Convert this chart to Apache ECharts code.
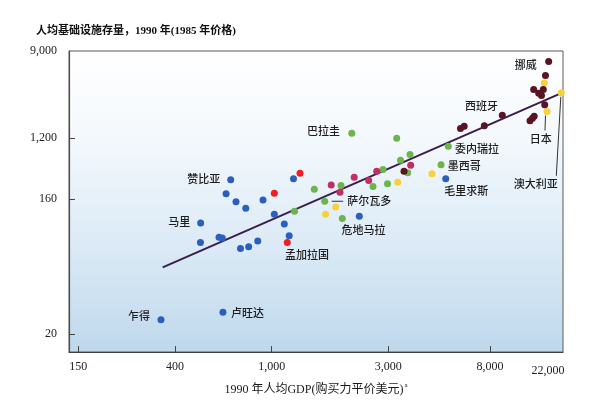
<!DOCTYPE html>
<html>
<head>
<meta charset="utf-8">
<script src="https://cdn.jsdelivr.net/npm/echarts@6/dist/echarts.min.js"></script>
<style>
html,body{margin:0;padding:0;background:#fff;}
#chart{width:613px;height:405px;}
</style>
</head>
<body>
<div id="chart"></div>
<script>
// ---- Axis ticks as printed on the original chart ----
const X_TICKS = [150, 400, 1000, 3000, 8000, 22000];
const X_TICK_LABELS = ['150', '400', '1,000', '3,000', '8,000', '22,000'];
const Y_TICKS = [20, 160, 1200, 9000];
const Y_TICK_LABELS = ['20', '160', '1,200', '9,000'];

// ---- Data: GDP per capita (PPP $) and infrastructure stock per capita ----
const africaGDP   = [678, 649, 713, 782, 921, 1228, 1025, 1126, 1179, 510, 509, 607, 626, 744, 804, 876, 347, 630, 2283, 5220];
const africaStock = [304, 191, 154, 139, 158, 315, 127, 109, 91, 111, 82, 89, 88, 75, 77, 84, 25, 28, 123, 314];

const southAsiaGDP   = [1025, 1306, 1158];
const southAsiaStock = [194, 378, 82];

const latinGDP   = [1494, 1240, 1648, 1921, 2597, 2853, 2978, 3375, 3698, 3617, 4989, 5351, 2126, 3253, 1945];
const latinStock = [223, 133, 155, 252, 243, 427, 266, 580, 700, 383, 498, 921, 1347, 1200, 119];

const midEastGDP   = [1752, 1903, 2176, 2494, 2690, 3723];
const midEastStock = [256, 201, 330, 297, 402, 492];

const eastAsiaGDP   = [1661, 1828, 3285, 4573, 17625, 16980, 21490];
const eastAsiaStock = [127, 142, 281, 370, 2224, 4297, 3426];

const oecdGDP   = [3491, 6019, 6237, 7573, 9487, 13924, 14414, 14757, 14655, 15714, 16331, 16744, 17072, 17262, 18041];
const oecdStock = [404, 1501, 1580, 1602, 2037, 1794, 1905, 1991, 3698, 3395, 3219, 3698, 2603, 5109, 7062];

// regression line end points [GDP, stock]
const fitLine = [[353, 56], [21490, 3400]];

// country names shown on the chart: [group, index in group, name]
const countryNames = [
  ['africa', 0, '赞比亚'], ['africa', 9, '马里'], ['africa', 16, '乍得'], ['africa', 17, '卢旺达'],
  ['africa', 18, '危地马拉'], ['africa', 19, '毛里求斯'],
  ['southAsia', 2, '孟加拉国'],
  ['latin', 2, '萨尔瓦多'], ['latin', 10, '墨西哥'], ['latin', 11, '委内瑞拉'], ['latin', 12, '巴拉圭'],
  ['eastAsia', 4, '日本'], ['eastAsia', 6, '澳大利亚'],
  ['oecd', 3, '西班牙'], ['oecd', 14, '挪威']
];

// ---- Scale: the printed axes are logarithmic between the labelled ticks,
// with the tick spacing of the original figure (axis units along each axis) ----
const X_TICK_POS = [9.3, 106, 202.7, 319.3, 421, 494];
const X_MAX = 494;
const Y_TICK_POS = [17.8, 152.8, 213.8, 301];
const Y_MAX = 301;

function piecewiseLog(v, ticks, pos) {
  const L = Math.log10(v);
  const lt = ticks.map(t => Math.log10(t));
  let i = 0;
  while (i < lt.length - 2 && L > lt[i + 1]) i++;
  return pos[i] + (L - lt[i]) * (pos[i + 1] - pos[i]) / (lt[i + 1] - lt[i]);
}
const tx = v => piecewiseLog(v, X_TICKS, X_TICK_POS);
const ty = v => piecewiseLog(v, Y_TICKS, Y_TICK_POS);

// ---- Styles ----
const COLORS = {
  africa: '#2b5fbd', southAsia: '#f21d1d', latin: '#6cb44c',
  midEast: '#c22d64', eastAsia: '#f8d03c', oecd: '#5a1322'
};
const LABEL_STYLE = {
  '赞比亚':  {position: 'left', distance: 7, offset: [0, -1]},
  '马里':    {position: 'left', distance: 7, offset: [0, -1]},
  '乍得':    {position: 'left', distance: 7.5, offset: [0, -4]},
  '卢旺达':  {position: 'right', distance: 4.5, offset: [0, 0.5]},
  '危地马拉': {position: 'bottom', distance: 4.7, offset: [4.2, 0]},
  '毛里求斯': {position: 'bottom', distance: 3.4, offset: [20.5, 0]},
  '孟加拉国': {position: 'bottom', distance: 3.7, offset: [19.7, 0]},
  '萨尔瓦多': {position: 'right', distance: 19, offset: [0, 0]},
  '墨西哥':  {position: 'right', distance: 3.2, offset: [0, 1.4]},
  '委内瑞拉': {position: 'right', distance: 3.2, offset: [0, 2.3]},
  '巴拉圭':  {position: 'left', distance: 8.2, offset: [0, -2.5]},
  '日本':    {position: 'bottom', distance: 18.3, offset: [-6.2, 0]},
  '澳大利亚': {position: 'bottom', distance: 81.7, offset: [-25.5, 0]},
  '西班牙':  {position: 'top', distance: 11.2, offset: [-2.8, 0]},
  '挪威':    {position: 'left', distance: 8.5, offset: [0, 3]}
};
const CJK = '"Noto Sans CJK SC", sans-serif';
const SERIF = '"Liberation Serif", "Noto Sans CJK SC", serif';

const groups = {
  africa: [africaGDP, africaStock],
  southAsia: [southAsiaGDP, southAsiaStock],
  latin: [latinGDP, latinStock],
  midEast: [midEastGDP, midEastStock],
  eastAsia: [eastAsiaGDP, eastAsiaStock],
  oecd: [oecdGDP, oecdStock]
};

function buildData(key) {
  const [gdp, stock] = groups[key];
  return gdp.map((g, i) => {
    const item = {value: [tx(g), ty(stock[i])]};
    const named = countryNames.find(c => c[0] === key && c[1] === i);
    if (named) {
      const st = LABEL_STYLE[named[2]];
      item.label = Object.assign({
        show: true, formatter: named[2], color: '#1e1e1e',
        fontFamily: CJK, fontSize: 11, fontWeight: 500
      }, st);
    }
    return item;
  });
}

const scatterSeries = Object.keys(groups).map(key => ({
  type: 'scatter', name: key, symbol: 'circle', symbolSize: 7,
  itemStyle: {color: COLORS[key], opacity: 1},
  data: buildData(key), z: 3, silent: true
}));

const lineSeries = {
  type: 'line', data: fitLine.map(p => [tx(p[0]), ty(p[1])]),
  symbol: 'none', lineStyle: {color: '#3a1d4c', width: 2}, z: 2, silent: true
};

function nearestLabel(v, pos, labels) {
  let best = 0;
  pos.forEach((p, i) => { if (Math.abs(p - v) < Math.abs(pos[best] - v)) best = i; });
  return labels[best];
}

const chart = echarts.init(document.getElementById('chart'), null, {renderer: 'canvas'});
const option = {
  backgroundColor: '#ffffff',
  animation: false,
  title: {
    text: '人均基础设施存量，1990 年(1985 年价格)',
    left: 31, top: 21,
    textStyle: {fontFamily: SERIF, fontSize: 11, fontWeight: 'bold', color: '#111'}
  },
  grid: {
    left: 69, right: 50, top: 51, bottom: 53, show: true,
    borderColor: '#5a5a5a', borderWidth: 1,
    backgroundColor: new echarts.graphic.LinearGradient(0, 0, 0, 1, [
      {offset: 0, color: '#ffffff'},
      {offset: 0.3, color: '#f3f8fc'},
      {offset: 0.65, color: '#dbeaf6'},
      {offset: 1, color: '#bfd8ec'}
    ])
  },
  xAxis: {
    type: 'value', min: 0, max: X_MAX,
    axisLine: {show: true, lineStyle: {color: '#3e3e3e', width: 1.2}},
    axisTick: {show: true, inside: true, length: 6,
      customValues: X_TICKS.slice(0, 5).map(tx), lineStyle: {color: '#444'}},
    axisLabel: {
      customValues: X_TICKS.map(tx), margin: 9,
      fontFamily: SERIF, fontSize: 12, color: '#222',
      formatter: v => {
        const s = nearestLabel(v, X_TICK_POS, X_TICK_LABELS);
        return s === '22,000' ? '{r|' + s + '}' : s;
      },
      rich: {r: {padding: [4, 30, 0, 0], fontFamily: SERIF, fontSize: 12, color: '#222'}}
    },
    splitLine: {show: false},
    name: '{t|1990 年人均GDP(购买力平价美元)}{s|a}',
    nameLocation: 'middle', nameGap: 30,
    nameTextStyle: {
      rich: {
        t: {fontFamily: SERIF, fontSize: 12, color: '#1a1a1a'},
        s: {fontFamily: SERIF, fontSize: 7, color: '#1a1a1a', padding: [0, 0, 8, 1]}
      }
    }
  },
  yAxis: {
    type: 'value', min: 0, max: Y_MAX,
    axisLine: {show: true, lineStyle: {color: '#5b4848', width: 1.2}},
    axisTick: {show: true, inside: true, length: 6,
      customValues: Y_TICKS.slice(0, 3).map(ty), lineStyle: {color: '#444'}},
    axisLabel: {
      customValues: Y_TICKS.map(ty), margin: 12,
      fontFamily: SERIF, fontSize: 12, color: '#222',
      formatter: v => nearestLabel(v, Y_TICK_POS, Y_TICK_LABELS)
    },
    splitLine: {show: false}
  },
  series: [lineSeries].concat(scatterSeries)
};
chart.setOption(option);

// leader lines from labelled points to their names
function px(key, i) {
  const [gdp, stock] = groups[key];
  return chart.convertToPixel({gridIndex: 0}, [tx(gdp[i]), ty(stock[i])]);
}
const jp = px('eastAsia', 4), au = px('eastAsia', 6), sv = px('latin', 2);
chart.setOption({
  graphic: [
    {type: 'line', shape: {x1: jp[0] - 1.5, y1: jp[1] + 4, x2: jp[0] - 2, y2: jp[1] + 19}, style: {stroke: '#333', lineWidth: 1}, z: 10},
    {type: 'line', shape: {x1: au[0] - 0.5, y1: au[1] + 4, x2: au[0] - 5, y2: au[1] + 83}, style: {stroke: '#333', lineWidth: 1}, z: 10},
    {type: 'line', shape: {x1: sv[0] + 7, y1: sv[1], x2: sv[0] + 18.5, y2: sv[1]}, style: {stroke: '#333', lineWidth: 1}, z: 10}
  ]
});
</script>
</body>
</html>
